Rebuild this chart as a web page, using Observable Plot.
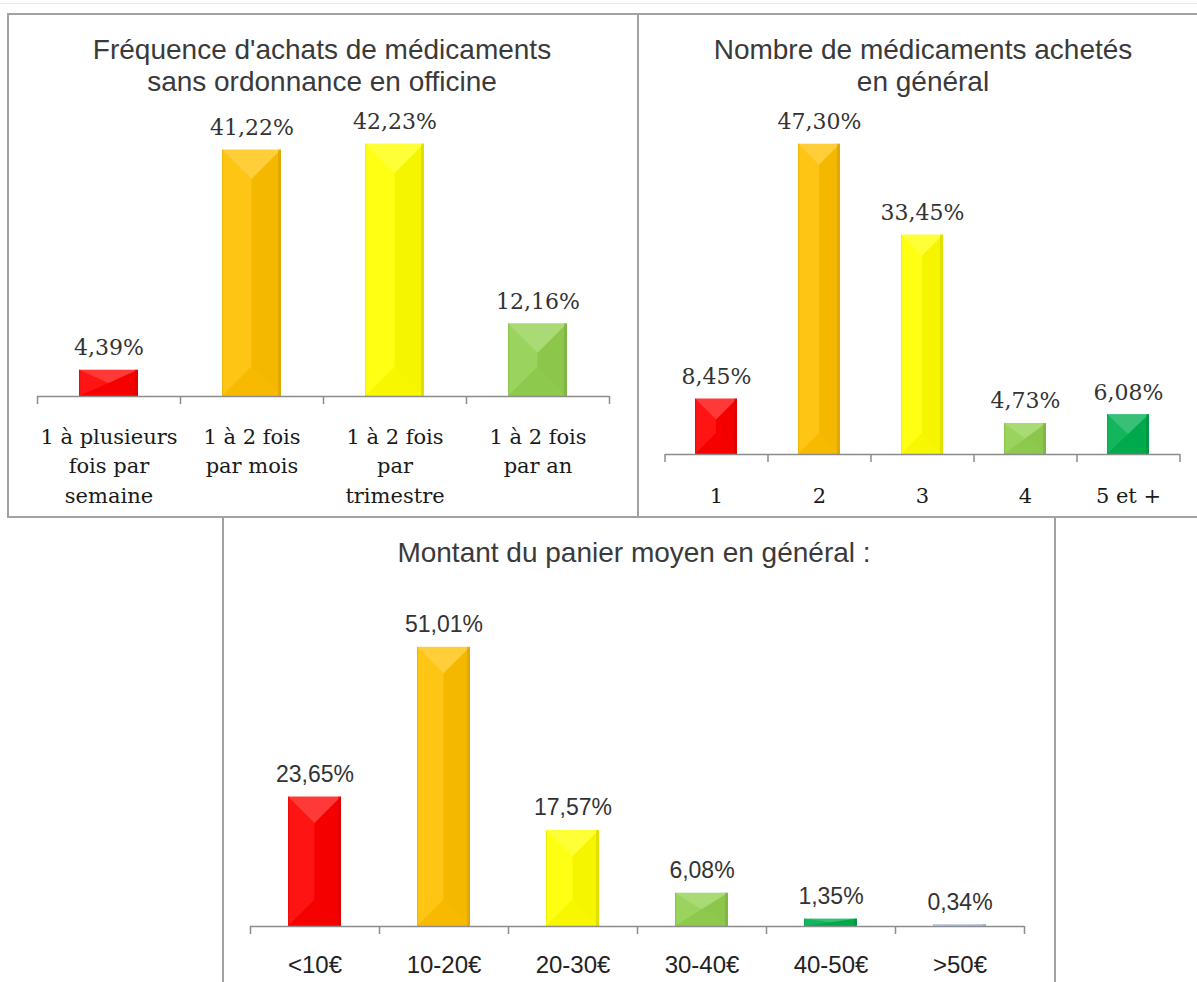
<!DOCTYPE html>
<html>
<head>
<meta charset="utf-8">
<script src="https://cdn.jsdelivr.net/npm/d3@7"></script>
<script src="https://cdn.jsdelivr.net/npm/@observablehq/plot@0.6"></script>
<style>
  body { margin: 0; background: #fff; }
  #page { position: relative; width: 1197px; height: 982px; overflow: hidden; background: #fff; }
  .frame { position: absolute; box-sizing: border-box; border: 2px solid #a2a2a2; }
  .topline { position: absolute; left: 0; top: 3px; width: 1197px; height: 1px; background: #e8e8e8; }
  .title { position: absolute; width: 600px; text-align: center; font-family: "Liberation Sans", Arial, sans-serif;
           font-size: 28px; line-height: 32px; color: #3a3a3a; }
  .chart { position: absolute; }
</style>
</head>
<body>
<div id="page">
  <div class="topline"></div>
  <div class="frame" style="left:7px;top:13px;width:632px;height:505px;"></div>
  <div class="frame" style="left:637px;top:13px;width:620px;height:505px;"></div>
  <div class="frame" style="left:222px;top:516px;width:834px;height:520px;"></div>
  <div class="title" style="left:22px;top:34px;">Fréquence d'achats de médicaments<br>sans ordonnance en officine</div>
  <div class="title" style="left:623px;top:34px;">Nombre de médicaments achetés<br>en général</div>
  <div class="title" style="left:334px;top:537px;">Montant du panier moyen en général :</div>
  <div class="chart" id="c1" style="left:7px;top:100px;"></div>
  <div class="chart" id="c2" style="left:637px;top:100px;"></div>
  <div class="chart" id="c3" style="left:223px;top:590px;"></div>
</div>
<script>
// ---- Data ----
const freqCategories = ["1 à plusieurs fois par semaine", "1 à 2 fois par mois", "1 à 2 fois par trimestre", "1 à 2 fois par an"];
const freqTickLabels = ["1 à plusieurs\nfois par\nsemaine", "1 à 2 fois\npar mois", "1 à 2 fois\npar\ntrimestre", "1 à 2 fois\npar an"];
const freqValues = [4.39, 41.22, 42.23, 12.16];
const freqColors = ["#FF0000", "#FFC000", "#FFFF00", "#92D050"];

const nbCategories = ["1", "2", "3", "4", "5 et +"];
const nbTickLabels = ["1", "2", "3", "4", "5 et +"];
const nbValues = [8.45, 47.30, 33.45, 4.73, 6.08];
const nbColors = ["#FF0000", "#FFC000", "#FFFF00", "#92D050", "#00B050"];

const montantCategories = ["<10€", "10-20€", "20-30€", "30-40€", "40-50€", ">50€"];
const montantTickLabels = ["<10€", "10-20€", "20-30€", "30-40€", "40-50€", ">50€"];
const montantValues = [23.65, 51.01, 17.57, 6.08, 1.35, 0.34];
const montantColors = ["#FF0000", "#FFC000", "#FFFF00", "#92D050", "#00B050", "#B4C7E7"];

const fmt = v => v.toFixed(2).replace(".", ",") + "%";

function bevel(svg) {
  d3.select(svg).selectAll('g[aria-label="bar"] rect').each(function () {
    const r = d3.select(this);
    const x = +r.attr("x"), y = +r.attr("y"), w = +r.attr("width"), h = +r.attr("height");
    const base = d3.color(r.attr("fill"));
    const g = d3.select(this.parentNode);
    const b = Math.min(w / 2, h / 2);
    const cx = x + w / 2;
    const poly = (pts, fill, op) => g.append("polygon")
      .attr("points", pts.map(p => p.join(",")).join(" "))
      .attr("fill", fill).attr("fill-opacity", op);
    poly([[x, y], [cx, y + b], [cx, y + h - b], [x, y + h]], "#fff", 0.08);
    poly([[x + w, y], [cx, y + b], [cx, y + h - b], [x + w, y + h]], "#000", 0.04);
    poly([[x, y], [x + w, y], [cx, y + b]], "#fff", 0.22);
    poly([[x, y + h], [x + w, y + h], [cx, y + h - b]], "#000", 0.03);
    g.append("rect").attr("x", x + w - 3).attr("y", y).attr("width", 3).attr("height", h)
      .attr("fill", base.darker(0.6)).attr("fill-opacity", 0.55);
    g.append("rect").attr("x", x).attr("y", y).attr("width", 1.2).attr("height", h)
      .attr("fill", base.darker(0.4)).attr("fill-opacity", 0.45);
  });
}

function makeChart(opts) {
  const {cats, tickLabels, values, colors, width, marginLeft, marginRight, marginTop, marginBottom,
         plotHeight, yMax, valueFont, valueSize, valueColor, tickFont, tickSize, tickColor, tickPadding, lineHeight} = opts;
  const data = cats.map((c, i) => ({cat: c, value: values[i], color: colors[i]}));
  const labelMap = new Map(cats.map((c, i) => [c, tickLabels[i]]));
  const step = (width - marginLeft - marginRight) / cats.length;
  const valueDy = -15 - 0.32 * valueSize;
  const svg = Plot.plot({
    width,
    height: marginTop + plotHeight + marginBottom,
    marginLeft, marginRight, marginTop, marginBottom,
    style: {background: "transparent", overflow: "visible"},
    x: {domain: cats, paddingInner: 0.59, paddingOuter: 0.295, axis: null, label: null},
    y: {domain: [0, yMax], axis: null, label: null},
    color: {type: "identity"},
    marks: [
      Plot.barY(data, {x: "cat", y: "value", fill: "color"}),
      Plot.ruleY([0], {stroke: "#8c8c8c", strokeWidth: 1.6}),
      Plot.axisX({tickSize: 8, tickFormat: () => "", label: null, dx: -step / 2, color: "#8c8c8c", strokeWidth: 1.5}),
      Plot.axisX({ticks: [cats[cats.length - 1]], tickSize: 8, tickFormat: () => "", label: null, dx: step / 2, color: "#8c8c8c", strokeWidth: 1.5}),
      Plot.axisX({tickSize: 0, tickPadding, tickFormat: d => labelMap.get(d), label: null, fontFamily: tickFont, fontSize: tickSize,
                  color: tickColor, lineHeight}),
      Plot.text(data, {x: "cat", y: "value", text: d => fmt(d.value), dy: valueDy, lineAnchor: "middle",
                       fontFamily: valueFont, fontSize: valueSize, fill: valueColor})
    ]
  });
  bevel(svg);
  return svg;
}

document.getElementById("c1").appendChild(makeChart({
  cats: freqCategories, tickLabels: freqTickLabels, values: freqValues, colors: freqColors,
  width: 630, marginLeft: 30, marginRight: 28, marginTop: 27, marginBottom: 110, plotHeight: 269, yMax: 45,
  valueFont: "DejaVu Serif", valueSize: 22, valueColor: "#333",
  tickFont: "DejaVu Serif", tickSize: 21, tickColor: "#1a1a1a", tickPadding: 26, lineHeight: 1.41
}));

document.getElementById("c2").appendChild(makeChart({
  cats: nbCategories, tickLabels: nbTickLabels, values: nbValues, colors: nbColors,
  width: 560, marginLeft: 28, marginRight: 17, marginTop: 26, marginBottom: 55, plotHeight: 328, yMax: 50,
  valueFont: "DejaVu Serif", valueSize: 22, valueColor: "#333",
  tickFont: "DejaVu Serif", tickSize: 21, tickColor: "#1a1a1a", tickPadding: 27, lineHeight: 1.41
}));

document.getElementById("c3").appendChild(makeChart({
  cats: montantCategories, tickLabels: montantTickLabels, values: montantValues, colors: montantColors,
  width: 832, marginLeft: 27, marginRight: 31, marginTop: 35, marginBottom: 56, plotHeight: 301, yMax: 55,
  valueFont: "Liberation Sans", valueSize: 23, valueColor: "#333",
  tickFont: "Liberation Sans", tickSize: 24, tickColor: "#222", tickPadding: 26, lineHeight: 1.2
}));
</script>
</body>
</html>
